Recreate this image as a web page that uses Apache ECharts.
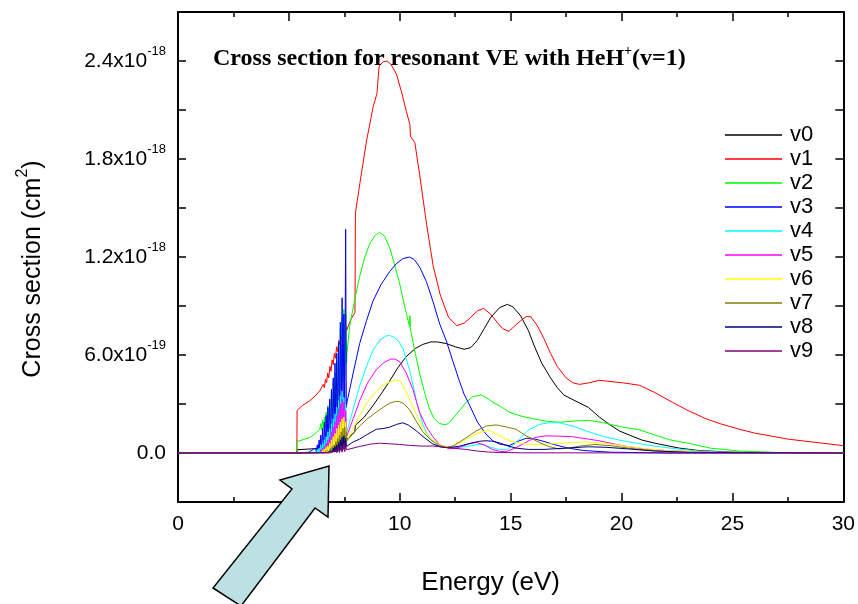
<!DOCTYPE html>
<html>
<head>
<meta charset="utf-8">
<script src="https://cdn.jsdelivr.net/npm/echarts@6/dist/echarts.min.js"></script>
<style>html,body{margin:0;padding:0;background:#fff}#c{width:858px;height:604px}</style>
</head>
<body>
<div id="c"></div>
<script>
// Energy (eV) vs cross section in units of 1e-19 cm^2
const seriesNames = ['v0','v1','v2','v3','v4','v5','v6','v7','v8','v9'];
const seriesColors = ['#000000','#ff0000','#00ff00','#0000ff','#00ffff','#ff00ff','#ffff00','#808000','#000080','#800080'];
const xTicks = [0,5,10,15,20,25,30];
const yTickValues = [0,6,12,18,24];
const yTickMant = ['0.0','6.0','1.2','1.8','2.4'];
const yTickExp = ['','-19','-18','-18','-18'];

const v0 = [[0,0],[5.36,0],[5.37,0.2],[6.0,0.25],[6.5,0.3],[7.0,0.4],[7.3,0.6],[7.4,1.1],[7.44,0.5],[7.5,1.2],[7.54,0.6],[7.62,0.85],[7.97,1.3],[8.0,1.7],[8.4,2.2],[8.79,2.9],[9.2,3.7],[9.54,4.4],[9.9,5.2],[10.29,5.9],[10.7,6.4],[11.04,6.65],[11.4,6.8],[11.7,6.8],[12.1,6.7],[12.5,6.5],[12.9,6.35],[13.2,6.45],[13.5,6.9],[13.8,7.6],[14.1,8.3],[14.5,8.9],[14.85,9.1],[15.1,8.95],[15.45,8.4],[15.8,7.5],[16.05,6.6],[16.4,5.5],[16.8,4.6],[17.1,4.0],[17.4,3.55],[17.9,3.2],[18.5,2.8],[19.0,2.2],[19.45,1.75],[19.9,1.35],[20.35,1.1],[20.9,0.8],[21.5,0.6],[22.6,0.3],[23.5,0.15],[25,0.05],[30,0]];
const v1 = [[0,0],[5.36,0],[5.37,2.6],[5.6,2.9],[5.94,3.2],[6.2,3.5],[6.39,3.8],[6.55,4.2],[6.6,4.0],[6.65,4.5],[6.7,4.3],[6.75,4.9],[6.8,4.6],[6.85,5.3],[6.9,5.0],[6.95,5.7],[7.0,5.4],[7.05,6.1],[7.1,5.8],[7.15,6.5],[7.2,6.2],[7.25,6.9],[7.3,6.6],[7.35,7.2],[7.4,7.0],[7.45,7.6],[7.5,7.2],[7.55,7.8],[7.6,7.5],[7.8,8.2],[7.98,8.6],[8.0,14.7],[8.2,16.5],[8.5,19.1],[8.8,21.2],[8.97,22.0],[9.07,23.7],[9.25,23.95],[9.43,24.0],[9.6,23.8],[9.85,23.2],[10.1,22.0],[10.3,20.9],[10.46,20.1],[10.48,19.4],[10.68,19.0],[10.9,17.0],[11.21,14.0],[11.5,11.5],[11.82,9.7],[12.2,8.3],[12.57,7.8],[12.9,7.95],[13.2,8.3],[13.5,8.7],[13.78,8.85],[14.1,8.5],[14.39,8.0],[14.65,7.6],[14.92,7.45],[15.2,7.8],[15.45,8.1],[15.7,8.35],[15.9,8.35],[16.2,7.8],[16.5,7.0],[16.8,6.1],[17.1,5.3],[17.5,4.6],[17.8,4.3],[18.1,4.2],[18.54,4.3],[19.0,4.45],[20.04,4.3],[20.8,4.15],[21.5,3.7],[22.3,3.1],[23.0,2.6],[23.8,2.1],[24.5,1.77],[25.3,1.46],[26.0,1.22],[27.5,0.85],[29.0,0.61],[30,0.45]];
const v2 = [[0,0],[5.36,0],[5.37,0.7],[5.94,0.95],[6.2,1.2],[6.39,1.45],[6.44,1.8],[6.47,1.4],[6.52,2.0],[6.56,1.5],[6.6,2.2],[6.64,1.6],[6.68,2.5],[6.72,1.8],[6.76,2.9],[6.8,2.0],[6.84,3.3],[6.88,2.2],[6.92,3.8],[6.96,2.4],[7.0,4.3],[7.04,2.6],[7.08,4.9],[7.12,2.9],[7.16,5.6],[7.2,3.2],[7.24,6.5],[7.28,3.5],[7.32,7.6],[7.36,3.9],[7.4,8.3],[7.44,4.3],[7.48,8.8],[7.52,4.8],[7.56,8.5],[7.6,5.5],[7.62,6.1],[7.74,7.75],[8.0,9.6],[8.19,10.8],[8.4,11.9],[8.64,12.8],[8.9,13.35],[9.09,13.5],[9.3,13.3],[9.54,12.6],[9.75,11.6],[9.99,10.4],[10.2,9.1],[10.44,7.75],[10.46,8.4],[10.48,7.6],[10.7,6.1],[10.89,4.9],[11.1,3.8],[11.34,2.7],[11.55,2.1],[11.8,1.8],[12.09,1.72],[12.3,1.95],[12.69,2.6],[12.99,3.1],[13.3,3.45],[13.67,3.55],[13.9,3.4],[14.2,3.1],[14.49,2.9],[14.94,2.5],[15.5,2.25],[16.0,2.1],[16.6,1.95],[17.19,1.88],[17.8,1.95],[18.54,2.0],[19.2,1.85],[20.0,1.6],[20.8,1.42],[21.5,1.1],[22.2,0.8],[23.0,0.6],[24.0,0.3],[25.3,0.12],[27,0.03],[30,0]];
const v3 = [[0,0],[5.36,0],[5.9,0.05],[6.2,0.3],[6.24,0.05],[6.28,0.5],[6.32,0.1],[6.36,0.8],[6.4,0.15],[6.44,1.1],[6.48,0.2],[6.52,1.5],[6.56,0.3],[6.6,1.9],[6.64,0.4],[6.68,2.3],[6.72,0.5],[6.76,2.8],[6.8,0.6],[6.84,3.3],[6.88,0.7],[6.92,3.9],[6.96,0.9],[7.0,4.6],[7.04,1.0],[7.08,5.5],[7.12,1.2],[7.16,6.1],[7.2,1.4],[7.24,6.8],[7.28,1.6],[7.32,8.0],[7.36,1.9],[7.4,9.5],[7.44,2.2],[7.48,8.5],[7.52,2.6],[7.56,13.7],[7.59,2.8],[7.62,3.1],[7.9,4.9],[8.19,6.7],[8.5,8.1],[8.79,9.3],[9.15,10.3],[9.54,11.1],[9.85,11.6],[10.14,11.9],[10.44,12.0],[10.65,11.85],[10.89,11.4],[11.2,10.5],[11.49,9.3],[11.8,7.9],[12.09,6.9],[12.4,5.6],[12.69,4.4],[12.9,3.6],[13.14,2.95],[13.5,1.9],[13.89,1.15],[14.2,0.75],[14.49,0.55],[14.94,0.45],[15.3,0.7],[15.69,0.9],[15.95,0.9],[16.4,0.75],[17.0,0.5],[17.6,0.3],[18.3,0.15],[19.5,0.05],[22,0],[30,0]];
const v4 = [[0,0],[5.36,0],[6.2,0.05],[6.28,0.2],[6.32,0.02],[6.36,0.3],[6.4,0.05],[6.44,0.5],[6.48,0.08],[6.52,0.6],[6.56,0.1],[6.6,0.8],[6.64,0.15],[6.68,1.0],[6.72,0.2],[6.76,1.3],[6.8,0.25],[6.84,1.5],[6.88,0.3],[6.92,1.8],[6.96,0.4],[7.0,2.1],[7.04,0.5],[7.08,2.4],[7.12,0.6],[7.16,2.8],[7.2,0.7],[7.24,3.2],[7.28,0.8],[7.32,3.5],[7.36,0.9],[7.4,3.8],[7.44,1.0],[7.48,3.4],[7.52,1.1],[7.56,3.0],[7.6,1.2],[7.62,1.3],[7.9,2.7],[8.19,4.1],[8.5,5.3],[8.79,6.3],[9.1,6.9],[9.35,7.15],[9.54,7.2],[9.8,7.05],[9.99,6.75],[10.14,6.4],[10.44,5.1],[10.59,4.2],[10.8,2.9],[11.04,1.75],[11.19,1.3],[11.4,0.85],[11.64,0.55],[11.94,0.42],[12.5,0.35],[12.99,0.38],[13.4,0.5],[13.74,0.52],[14.1,0.35],[14.5,0.2],[14.8,0.2],[15.1,0.45],[15.39,0.85],[15.8,1.4],[16.29,1.75],[16.7,1.85],[17.19,1.85],[17.8,1.65],[18.4,1.35],[19.2,1.0],[20.04,0.75],[21.1,0.5],[22.3,0.28],[23.5,0.12],[25,0.03],[30,0]];
const v5 = [[0,0],[5.36,0],[6.4,0.03],[6.44,0.2],[6.48,0.02],[6.52,0.3],[6.56,0.05],[6.6,0.4],[6.64,0.05],[6.68,0.6],[6.72,0.1],[6.76,0.8],[6.8,0.1],[6.84,1.0],[6.88,0.15],[6.92,1.3],[6.96,0.2],[7.0,1.6],[7.04,0.3],[7.08,1.9],[7.12,0.4],[7.16,2.3],[7.2,0.5],[7.24,2.7],[7.28,0.6],[7.32,3.0],[7.36,0.7],[7.4,3.3],[7.44,0.8],[7.48,3.1],[7.52,0.9],[7.56,2.6],[7.6,1.0],[7.62,1.0],[7.9,2.1],[8.19,3.2],[8.55,4.3],[8.94,5.1],[9.3,5.55],[9.6,5.75],[9.78,5.75],[9.99,5.6],[10.29,4.9],[10.59,3.9],[10.89,2.5],[11.2,1.6],[11.49,1.0],[11.8,0.5],[12.24,0.25],[12.7,0.35],[13.1,0.55],[13.44,0.65],[13.8,0.5],[14.2,0.2],[14.5,0.1],[14.79,0.08],[15.2,0.3],[15.69,0.65],[16.1,0.95],[16.59,1.05],[17.2,1.03],[17.79,1.0],[18.5,0.85],[19.0,0.75],[20.0,0.45],[21.0,0.25],[22.0,0.15],[24,0.04],[30,0]];
const v6 = [[0,0],[5.36,0],[6.5,0.02],[6.52,0.15],[6.56,0.02],[6.6,0.25],[6.64,0.03],[6.68,0.35],[6.72,0.05],[6.76,0.45],[6.8,0.06],[6.84,0.6],[6.88,0.08],[6.92,0.8],[6.96,0.1],[7.0,1.0],[7.04,0.15],[7.08,1.2],[7.12,0.2],[7.16,1.5],[7.2,0.3],[7.24,1.7],[7.28,0.35],[7.32,1.9],[7.36,0.4],[7.4,2.1],[7.44,0.5],[7.48,2.2],[7.52,0.6],[7.56,1.9],[7.6,0.7],[7.62,0.8],[7.9,1.5],[8.19,2.3],[8.55,3.1],[8.94,3.8],[9.25,4.15],[9.54,4.35],[9.8,4.45],[9.99,4.45],[10.2,4.0],[10.44,3.3],[10.74,2.4],[11.04,1.5],[11.3,1.0],[11.49,0.8],[11.8,0.5],[12.24,0.35],[12.7,0.6],[13.0,0.85],[13.29,1.05],[13.7,1.3],[14.04,1.38],[14.4,1.15],[14.79,0.85],[15.2,0.65],[15.69,0.55],[16.2,0.52],[16.74,0.55],[17.5,0.62],[18.39,0.68],[19.2,0.6],[20.0,0.45],[21.0,0.28],[22.0,0.15],[24,0.04],[30,0]];
const v7 = [[0,0],[5.36,0],[6.6,0.02],[6.64,0.1],[6.68,0.02],[6.72,0.15],[6.76,0.03],[6.8,0.2],[6.84,0.04],[6.88,0.3],[6.92,0.05],[6.96,0.4],[7.0,0.06],[7.04,0.5],[7.08,0.08],[7.12,0.7],[7.16,0.1],[7.2,0.9],[7.24,0.15],[7.28,1.1],[7.32,0.2],[7.36,1.3],[7.4,0.3],[7.44,1.5],[7.48,0.4],[7.52,1.6],[7.56,0.5],[7.6,1.3],[7.62,0.75],[7.9,1.2],[8.19,1.65],[8.55,2.1],[8.94,2.5],[9.25,2.8],[9.54,3.05],[9.8,3.15],[9.99,3.15],[10.2,3.0],[10.44,2.65],[10.74,1.95],[11.04,1.3],[11.4,0.8],[11.79,0.45],[12.1,0.35],[12.39,0.42],[12.9,0.85],[13.44,1.35],[13.9,1.65],[14.34,1.72],[14.8,1.6],[15.24,1.45],[15.7,1.05],[16.29,0.65],[16.7,0.4],[17.19,0.25],[17.7,0.32],[18.24,0.45],[18.8,0.52],[19.5,0.45],[20.3,0.3],[21.3,0.15],[22.5,0.06],[24,0.02],[30,0]];
const v8 = [[0,0],[5.36,0],[6.7,0.02],[6.76,0.1],[6.8,0.02],[6.84,0.15],[6.88,0.03],[6.92,0.2],[6.96,0.04],[7.0,0.3],[7.04,0.05],[7.08,0.4],[7.12,0.06],[7.16,0.5],[7.2,0.08],[7.24,0.65],[7.28,0.1],[7.32,0.8],[7.36,0.15],[7.4,0.95],[7.44,0.2],[7.48,1.05],[7.52,0.25],[7.56,0.9],[7.6,0.4],[7.62,0.5],[7.9,0.68],[8.19,0.85],[8.55,1.15],[8.94,1.45],[9.25,1.5],[9.54,1.58],[9.85,1.75],[10.14,1.85],[10.4,1.7],[10.74,1.36],[11.1,0.95],[11.49,0.55],[11.9,0.35],[12.24,0.33],[12.7,0.42],[13.2,0.6],[13.6,0.72],[13.89,0.75],[14.2,0.72],[14.49,0.62],[14.9,0.42],[15.24,0.3],[15.8,0.22],[16.5,0.22],[17.5,0.3],[18.5,0.38],[19.3,0.35],[20.3,0.25],[21.5,0.12],[23,0.04],[30,0]];
const v9 = [[0,0],[5.36,0],[6.9,0.01],[7.0,0.1],[7.04,0.01],[7.12,0.2],[7.16,0.02],[7.24,0.3],[7.28,0.03],[7.36,0.45],[7.4,0.05],[7.48,0.6],[7.52,0.08],[7.56,0.5],[7.6,0.2],[7.62,0.3],[8.19,0.4],[8.7,0.55],[9.09,0.6],[9.5,0.57],[9.99,0.52],[10.5,0.46],[11.04,0.42],[11.49,0.43],[12.0,0.35],[12.5,0.28],[12.99,0.22],[13.5,0.12],[14.0,0.06],[14.49,0.03],[15.5,0.01],[30,0]];
const seriesData = [v0,v1,v2,v3,v4,v5,v6,v7,v8,v9];

const SANS = '"Liberation Sans", Arial, sans-serif';
const SERIF = '"Liberation Serif", "Times New Roman", serif';

const chart = echarts.init(document.getElementById('c'), null, {renderer: 'canvas'});

const axisCommon = {
  axisLine: {show: true, onZero: false, lineStyle: {color: '#000', width: 2}},
  splitLine: {show: false},
};

const option = {
  animation: false,
  backgroundColor: '#fff',
  title: {
    text: '{b|Cross section for resonant VE with HeH}{s|+}{b|(v=1)}',
    left: 213, top: 44, padding: 0,
    textStyle: {
      rich: {
        b: {fontFamily: SERIF, fontWeight: 'bold', fontSize: 24, color: '#000', lineHeight: 30},
        s: {fontFamily: SERIF, fontWeight: 'bold', fontSize: 14, color: '#000', lineHeight: 14, verticalAlign: 'top'}
      }
    }
  },
  legend: {
    orient: 'vertical',
    left: 720, top: 119,
    icon: 'rect',
    itemWidth: 57, itemHeight: 1.5, itemGap: 2,
    data: seriesNames,
    textStyle: {fontFamily: SANS, fontSize: 22, color: '#000', lineHeight: 22, padding: [0,0,0,3]}
  },
  grid: {left: 178, right: 13, top: 12, bottom: 102, containLabel: false},
  xAxis: [
    Object.assign({}, axisCommon, {
      type: 'value', min: xTicks[0], max: xTicks[xTicks.length-1], interval: 5, position: 'bottom',
      axisTick: {show: true, inside: true, length: 9, lineStyle: {color: '#000', width: 1.5}},
      minorTick: {show: true, splitNumber: 2, length: 5, lineStyle: {color: '#000', width: 1.5}},
      minorSplitLine: {show: false},
      axisLabel: {margin: 12, fontFamily: SANS, fontSize: 21, color: '#000'},
      name: 'Energy (eV)', nameLocation: 'middle', nameGap: 68,
      nameTextStyle: {fontFamily: SANS, fontSize: 26, color: '#000', lineHeight: 26, padding: [0, 40, 0, 0]}
    }),
    Object.assign({}, axisCommon, {
      type: 'value', min: xTicks[0], max: xTicks[xTicks.length-1], interval: 5, position: 'top',
      axisTick: {show: true, inside: true, length: 9, lineStyle: {color: '#000', width: 1.5}},
      minorTick: {show: true, splitNumber: 2, length: 5, lineStyle: {color: '#000', width: 1.5}},
      minorSplitLine: {show: false},
      axisLabel: {show: false}
    })
  ],
  yAxis: [
    Object.assign({}, axisCommon, {
      type: 'value', min: -3, max: 27, interval: 3, position: 'left',
      axisTick: {show: true, inside: true, length: 8, lineStyle: {color: '#000', width: 1.5}},
      axisLabel: {
        margin: 12, color: '#000',
        formatter: function (v) {
          const r = Math.round(v);
          if (Math.abs(v - r) > 1e-6) return '';
          const i = yTickValues.indexOf(r);
          if (i < 0) return '';
          return yTickExp[i] ? '{m|' + yTickMant[i] + 'x10}{e|' + yTickExp[i] + '}' : '{m|' + yTickMant[i] + '}';
        },
        rich: {
          m: {fontFamily: SANS, fontSize: 21, color: '#000', lineHeight: 32},
          e: {fontFamily: SANS, fontSize: 13, color: '#000', lineHeight: 13, verticalAlign: 'top'}
        }
      },
      name: '{a|Cross section (cm}{s|2}{a|)}', nameLocation: 'middle', nameGap: 127,
      nameTextStyle: {
        padding: [0, 24, 0, 0],
        rich: {
          a: {fontFamily: SANS, fontSize: 25, color: '#000', lineHeight: 36},
          s: {fontFamily: SANS, fontSize: 16, color: '#000', lineHeight: 16, verticalAlign: 'top'}
        }
      }
    }),
    Object.assign({}, axisCommon, {
      type: 'value', min: -3, max: 27, interval: 3, position: 'right',
      axisTick: {show: true, inside: true, length: 8, lineStyle: {color: '#000', width: 1.5}},
      axisLabel: {show: false}
    })
  ],
  series: seriesNames.map(function (n, i) {
    return {
      name: n, type: 'line', xAxisIndex: 0, yAxisIndex: 0,
      data: seriesData[i], symbol: 'none', smooth: false,
      lineStyle: {color: seriesColors[i], width: 1},
      itemStyle: {color: seriesColors[i]},
      z: 2 + i
    };
  }),
  graphic: [{
    type: 'polygon', z: 100,
    shape: {points: [[329,466],[328,517],[315,508],[241,606],[213,588],[292,489],[280,480]]},
    style: {fill: '#bde0e3', stroke: '#000', lineWidth: 1.5}
  }]
};
chart.setOption(option);
</script>
</body>
</html>
